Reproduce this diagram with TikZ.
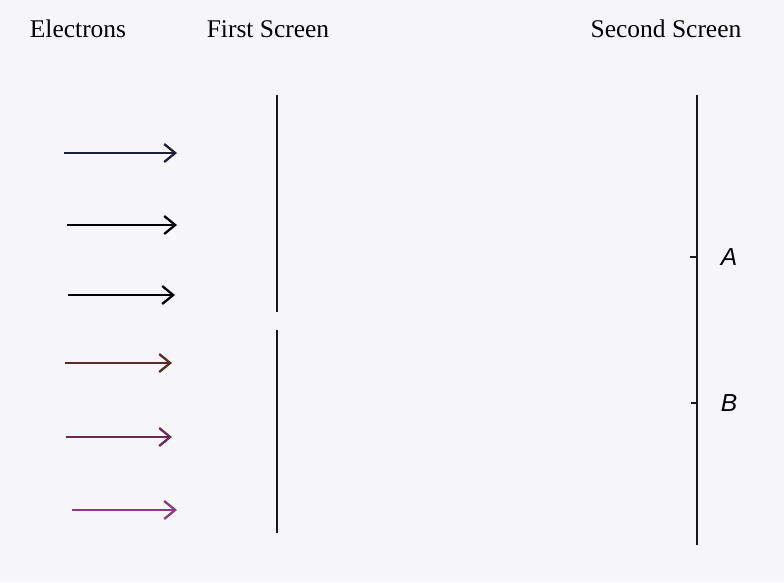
\documentclass[tikz,border=0pt]{standalone}
\usepackage{fontspec}
\setmainfont{Liberation Serif}
\setsansfont{Liberation Sans}
\usepackage{tikz}
\usetikzlibrary{arrows.meta,positioning}
\definecolor{PaperGray}{HTML}{F7F7F9}
\definecolor{BeamNavy}{HTML}{1E1E3A}
\definecolor{BeamBrown}{HTML}{5A2A28}
\definecolor{BeamPlum}{HTML}{6A2A5A}
\definecolor{BeamMagenta}{HTML}{8A3A80}

\begin{document}
\begin{tikzpicture}[x=0.02cm, y=-0.02cm, every node/.style={font=\fontsize{14.5}{17}\selectfont}, title/.style={anchor=base, inner sep=0pt}, screen/.style={line width=1.4pt, color=black!90}, beam/.style={-{Straight Barb[length=2.2mm, width=3.6mm]}, line width=1.3pt}, pointlabel/.style={font=\sffamily\itshape\fontsize{14}{16}\selectfont}]
\fill[PaperGray] (0,0) rectangle (784,582);
\useasboundingbox (0,0) rectangle (784,582);
% titles
\node[title] (el) at (78,37) {Electrons};
\node[title] (fs) at (268,37) {First Screen};
\node[title] (ss) at (666,37) {Second Screen};
% screens
\coordinate (s1a) at (277,95); \coordinate (s1b) at (277,312);
\coordinate (s1c) at (277,330); \coordinate (s1d) at (277,533);
\coordinate (s2a) at (697,95); \coordinate (s2b) at (697,545);
\draw[screen] (s1a) -- (s1b);
\draw[screen] (s1c) -- (s1d);
\draw[screen] (s2a) -- (s2b);
% points on the second screen
\coordinate (ta) at (697,257); \coordinate (tb) at (697,403);
\draw[screen] (ta) -- ++(-7,0);
\draw[screen] (tb) -- ++(-6,0);
\node[pointlabel] (a) at (729,257) {A};
\node[pointlabel] (b) at (729,403) {B};
% electron beams
\foreach \y/\xs/\xe/\c [count=\i] in {153/64/177/BeamNavy, 225/67/177/black, 295/68/175/black, 363/65/172/BeamBrown, 437/66/172/BeamPlum, 510/72/177/BeamMagenta} {
  \coordinate (e\i) at (\xs,\y);
  \coordinate (f\i) at (\xe,\y);
  \draw[beam, color=\c] (e\i) -- (f\i);
}
\end{tikzpicture}
\end{document}
